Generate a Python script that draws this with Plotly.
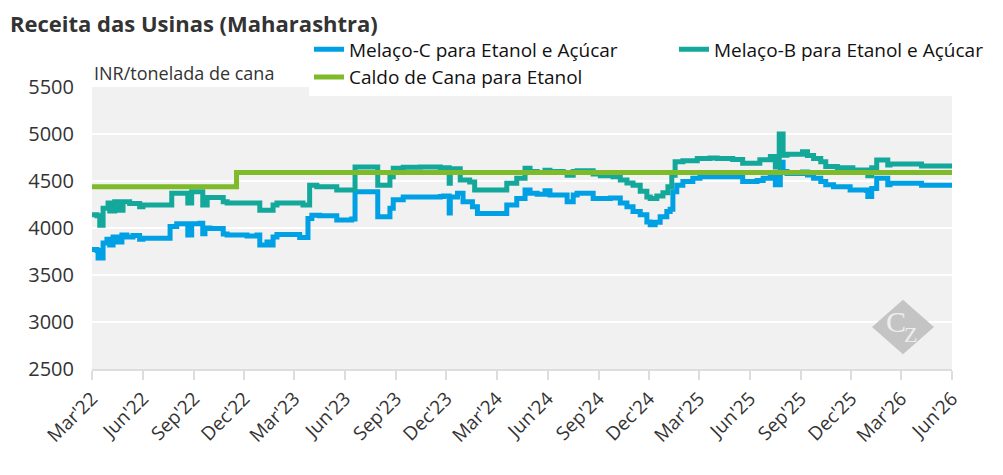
import pandas as pd
import plotly.graph_objects as go

# Melaço-C para Etanol e Açúcar (INR/tonelada de cana)
datas_c = [
    '2022-03-01', '2022-03-10', '2022-03-12', '2022-03-19', '2022-03-21', '2022-03-28', '2022-04-02',
    '2022-04-08', '2022-04-17', '2022-04-24', '2022-05-03', '2022-05-14', '2022-05-26', '2022-06-01',
    '2022-07-16', '2022-07-20', '2022-08-01', '2022-08-19', '2022-08-21', '2022-08-28', '2022-09-12',
    '2022-09-17', '2022-09-21', '2022-09-30', '2022-10-22', '2022-10-24', '2022-10-31', '2022-12-06',
    '2022-12-24', '2022-12-29', '2023-01-11', '2023-01-16', '2023-01-22', '2023-01-29', '2023-03-06',
    '2023-03-11', '2023-03-26', '2023-04-02', '2023-04-16', '2023-05-10', '2023-05-17', '2023-06-10',
    '2023-06-13', '2023-06-19', '2023-07-28', '2023-07-30', '2023-08-17', '2023-08-21', '2023-08-27',
    '2023-09-14', '2023-10-15', '2023-11-20', '2023-11-26', '2023-12-05', '2023-12-06', '2023-12-08',
    '2023-12-21', '2023-12-31', '2024-01-17', '2024-01-26', '2024-03-10', '2024-03-19', '2024-04-06',
    '2024-04-21', '2024-04-30', '2024-05-13', '2024-05-27', '2024-06-05', '2024-06-29', '2024-07-06',
    '2024-07-17', '2024-07-24', '2024-08-16', '2024-08-22', '2024-09-22', '2024-10-10', '2024-10-22',
    '2024-11-02', '2024-11-15', '2024-11-27', '2024-12-03', '2024-12-12', '2024-12-21', '2025-01-02',
    '2025-01-08', '2025-01-13', '2025-01-20', '2025-01-31', '2025-02-18', '2025-03-03', '2025-05-01',
    '2025-05-19', '2025-06-14', '2025-06-25', '2025-07-08', '2025-07-17', '2025-07-24', '2025-07-26',
    '2025-07-31', '2025-08-07', '2025-08-31', '2025-09-04', '2025-09-13', '2025-09-24', '2025-10-07',
    '2025-10-16', '2025-10-30', '2025-11-24', '2025-11-29', '2025-12-29', '2025-12-31', '2026-01-07',
    '2026-01-16', '2026-01-31', '2026-02-05', '2026-02-09', '2026-04-04', '2026-04-07', '2026-06-01',
]
valores_c = [
    3770, 3760, 3680, 3680, 3840, 3880, 3820,
    3905, 3850, 3925, 3905, 3920, 3880, 3890,
    3890, 4015, 4045, 4045, 3925, 4045, 4050,
    3940, 4000, 3995, 3995, 3935, 3925, 3915,
    3925, 3820, 3850, 3820, 3905, 3930, 3930,
    3900, 4100, 4135, 4130, 4130, 4085, 4085,
    4095, 4385, 4385, 4120, 4120, 4210, 4300,
    4330, 4330, 4335, 4340, 4340, 4160, 4330,
    4370, 4280, 4225, 4155, 4155, 4245, 4315,
    4405, 4370, 4360, 4395, 4350, 4350, 4280,
    4350, 4370, 4370, 4315, 4320, 4265, 4225,
    4175, 4140, 4065, 4035, 4060, 4120, 4175,
    4200, 4385, 4455, 4495, 4530, 4545, 4545,
    4495, 4505, 4530, 4550, 4460, 4460, 4700,
    4600, 4580, 4580, 4595, 4565, 4530, 4495,
    4460, 4440, 4440, 4405, 4400, 4335, 4420,
    4530, 4530, 4460, 4475, 4475, 4455, 4455,
]

# Melaço-B para Etanol e Açúcar
datas_b = [
    '2022-03-01', '2022-03-10', '2022-03-15', '2022-03-21', '2022-03-30', '2022-04-02', '2022-04-11',
    '2022-04-20', '2022-04-26', '2022-05-08', '2022-05-21', '2022-05-26', '2022-06-01', '2022-07-16',
    '2022-07-23', '2022-08-19', '2022-08-21', '2022-08-28', '2022-09-12', '2022-09-17', '2022-09-25',
    '2022-10-22', '2022-10-24', '2022-10-31', '2022-12-24', '2022-12-29', '2023-01-16', '2023-01-22',
    '2023-01-29', '2023-03-11', '2023-03-17', '2023-03-29', '2023-04-11', '2023-05-10', '2023-05-17',
    '2023-06-13', '2023-06-19', '2023-07-28', '2023-07-30', '2023-08-17', '2023-08-21', '2023-08-27',
    '2023-09-14', '2023-10-15', '2023-11-20', '2023-12-05', '2023-12-06', '2023-12-08', '2023-12-26',
    '2024-01-12', '2024-01-21', '2024-03-10', '2024-03-19', '2024-04-06', '2024-04-21', '2024-04-30',
    '2024-05-13', '2024-05-27', '2024-06-05', '2024-06-29', '2024-07-06', '2024-07-17', '2024-07-24',
    '2024-08-16', '2024-08-22', '2024-09-04', '2024-09-27', '2024-10-10', '2024-10-22', '2024-11-02',
    '2024-11-15', '2024-11-27', '2024-12-03', '2024-12-15', '2024-12-26', '2025-01-04', '2025-01-11',
    '2025-01-17', '2025-01-31', '2025-02-26', '2025-03-21', '2025-04-03', '2025-04-26', '2025-05-01',
    '2025-05-19', '2025-06-14', '2025-06-19', '2025-07-08', '2025-07-17', '2025-07-24', '2025-07-31',
    '2025-08-07', '2025-08-31', '2025-09-04', '2025-09-13', '2025-09-24', '2025-10-07', '2025-10-16',
    '2025-11-06', '2025-11-29', '2025-12-04', '2025-12-29', '2025-12-31', '2026-01-07', '2026-01-16',
    '2026-01-31', '2026-02-05', '2026-02-09', '2026-04-04', '2026-04-07', '2026-06-01',
]
valores_b = [
    4140, 4130, 4030, 4210, 4265, 4180, 4280,
    4190, 4280, 4260, 4260, 4225, 4245, 4245,
    4370, 4370, 4265, 4385, 4385, 4245, 4325,
    4325, 4280, 4265, 4265, 4190, 4190, 4245,
    4265, 4265, 4245, 4455, 4440, 4440, 4405,
    4405, 4650, 4650, 4455, 4455, 4545, 4635,
    4645, 4650, 4640, 4640, 4476, 4630, 4510,
    4490, 4405, 4405, 4476, 4530, 4635, 4600,
    4590, 4615, 4600, 4590, 4560, 4600, 4610,
    4610, 4575, 4555, 4545, 4510, 4480, 4455,
    4390, 4330, 4315, 4340, 4375, 4440, 4560,
    4705, 4715, 4740, 4745, 4740, 4740, 4730,
    4690, 4690, 4725, 4760, 4650, 5000, 4775,
    4785, 4785, 4810, 4770, 4740, 4705, 4655,
    4642, 4642, 4617, 4617, 4557, 4640, 4723,
    4723, 4670, 4681, 4681, 4660, 4660,
]

# Caldo de Cana para Etanol
datas_caldo = ['2022-03-01', '2022-11-17', '2026-06-01']
valores_caldo = [4440, 4590, 4590]

series = [
    ('Melaço-C para Etanol e Açúcar', datas_c, valores_c, '#00a0e4'),
    ('Melaço-B para Etanol e Açúcar', datas_b, valores_b, '#13a89a'),
    ('Caldo de Cana para Etanol', datas_caldo, valores_caldo, '#7fba2b'),
]

fonte = 'Open Sans'
cinza_texto = '#333333'

fig = go.Figure()
for nome, datas, valores, cor in series:
    fig.add_trace(go.Scatter(
        x=pd.to_datetime(datas),
        y=valores,
        mode='lines',
        name=nome,
        line=dict(color=cor, width=5, shape='hv'),
    ))

fig.update_layout(
    width=995,
    height=467,
    margin=dict(l=84, r=51, t=79, b=106, autoexpand=False),
    paper_bgcolor='white',
    plot_bgcolor='#f1f1f1',
    font=dict(family=fonte, size=19, color=cinza_texto),
    title=dict(
        text='<b>Receita das Usinas (Maharashtra)</b>',
        font=dict(family=fonte, size=22, color=cinza_texto),
        x=0.002, xref='container', xanchor='left',
        y=0.966, yref='container', yanchor='middle',
    ),
    showlegend=True,
    legend=dict(
        orientation='h',
        x=0.3025, y=0.952, xanchor='left', yanchor='top',
        xref='container', yref='container',
        entrywidth=320, entrywidthmode='pixels',
        bgcolor='white',
        font=dict(family=fonte, size=19, color='#111111'),
        tracegroupgap=0,
    ),
    xaxis=dict(
        type='date',
        range=['2022-03-01', '2026-06-01'],
        tick0='2022-03-01',
        dtick='M3',
        tickformat="%b'%y",
        tickangle=-45,
        ticks='outside',
        ticklen=9,
        tickwidth=2,
        tickcolor='#dddddd',
        showgrid=False,
        showline=True,
        linecolor='#dddddd',
        linewidth=2,
        zeroline=False,
        tickfont=dict(size=19, color=cinza_texto),
    ),
    yaxis=dict(
        range=[2500, 5500],
        tick0=2500,
        dtick=500,
        showgrid=True,
        gridcolor='white',
        gridwidth=2,
        zeroline=False,
        ticks='',
        ticklabelstandoff=17,
        tickfont=dict(size=20, color=cinza_texto),
    ),
)

# Unidade no topo do eixo
fig.add_annotation(
    text='INR/tonelada de cana', xref='paper', yref='paper',
    x=0, y=1.0, xanchor='left', yanchor='bottom', showarrow=False,
    font=dict(family=fonte, size=18, color=cinza_texto),
)

# Marca d'água CZ
fig.add_shape(
    type='path', xref='paper', yref='paper',
    path='M 0.943 0.246 L 0.979 0.149 L 0.943 0.052 L 0.907 0.149 Z',
    fillcolor='#c4c4c4', line=dict(width=0), layer='above',
)
fig.add_annotation(
    text='C', xref='paper', yref='paper', x=0.935, y=0.17,
    xanchor='center', yanchor='middle', showarrow=False,
    font=dict(family='Liberation Serif', size=30, color='#eeeeee'),
)
fig.add_annotation(
    text='Z', xref='paper', yref='paper', x=0.952, y=0.122,
    xanchor='center', yanchor='middle', showarrow=False,
    font=dict(family='Liberation Serif', size=22, color='#eeeeee'),
)

fig.write_html('out.html')
